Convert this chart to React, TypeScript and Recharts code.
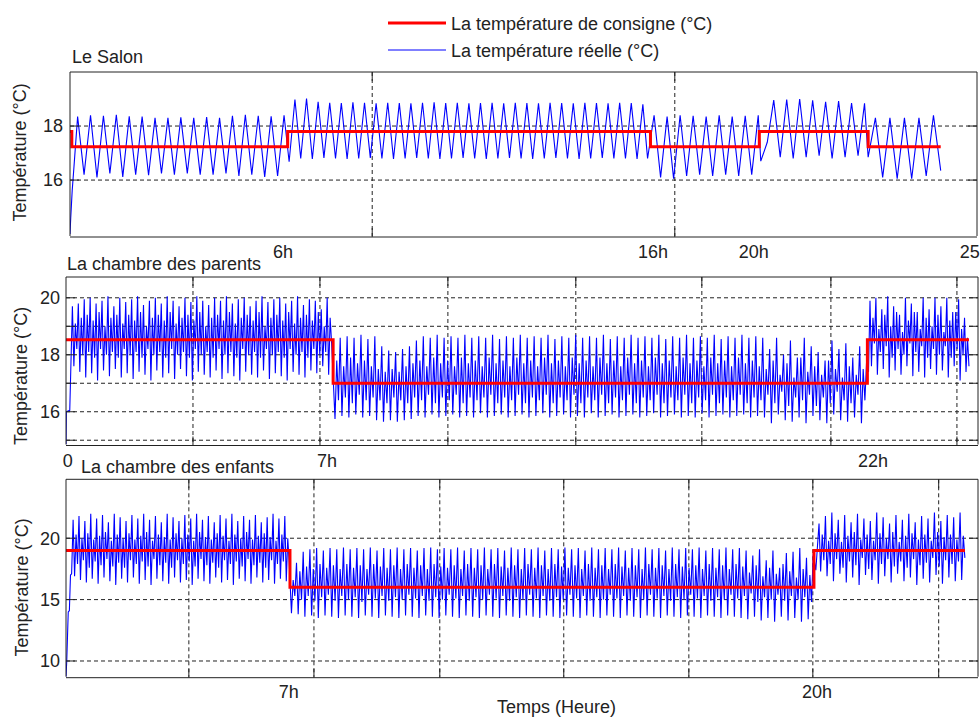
import React from "react";
import { LineChart, Line, XAxis, YAxis, CartesianGrid, Legend } from "recharts";

const FONT = '"Liberation Sans", Arial, Helvetica, sans-serif';
const INK = "#222";
const BLUE = "#0000ff";
const RED = "#ff0000";

const NAME_SET = "La température de consigne (°C)";
const NAME_REAL = "La température réelle (°C)";

// ---------- Le Salon ----------
const salonGridT = [8.33, 16.67];
const salonTicksY = [16, 18];
const salonLabelT = [5.87, 16.07, 18.85, 24.8];
const salonLabels = ["6h", "16h", "20h", "25"];
const salonSetT = [0, 0.05, 6, 16, 19, 22, 24];
const salonSetV = [17.8, 17.23, 17.8, 17.23, 17.8, 17.23, 17.23];
const salonRiseT = [0, 0.02, 0.06, 0.11];
const salonRiseV = [14.0, 14.6, 15.6, 16.5];
const salonRunFrom = [0.21, 6.04, 15.92, 19.04, 22.0];
const salonRunTo = [5.9, 15.79, 18.97, 21.9, 24.0];
const salonRun1 = [
  18.35, 16.2, 18.4, 16.1, 18.38, 16.25, 18.42, 16.12, 18.36, 16.2, 18.35, 16.18,
  18.3, 16.25, 18.3, 16.2, 18.32, 16.25, 18.3, 16.2, 18.33, 16.2, 18.3, 16.25,
  18.38, 16.15, 18.42, 16.2, 18.38, 16.12, 18.36, 16.15, 18.4,
];
const salonRun2 = [
  16.68, 18.98, 16.8, 19.02, 16.78, 18.9, 16.82, 18.86, 16.8, 18.85, 16.78, 18.88,
  16.8, 18.86, 16.82, 18.84, 16.8, 18.86, 16.78, 18.85, 16.8, 18.84, 16.82, 18.86,
  16.8, 18.88, 16.78, 18.85, 16.8, 18.86, 16.82, 18.84, 16.8, 18.85, 16.78, 18.86,
  16.8, 18.84, 16.82, 18.86, 16.8, 18.85, 16.78, 18.84, 16.8, 18.86, 16.82, 18.85,
  16.8, 18.84, 16.78, 18.86, 16.8, 18.85, 16.82, 18.84, 16.8, 18.86, 16.8, 18.85,
  16.78, 18.8,
];
const salonRun3 = [
  16.8, 18.4, 16.1, 18.35, 16.05, 18.4, 16.15, 18.38, 16.2, 18.35, 16.15, 18.4,
  16.2, 18.35, 16.15, 18.38, 16.2, 18.4,
];
const salonRun4 = [
  16.7, 17.4, 18.96, 16.85, 18.98, 16.8, 19.0, 16.85, 18.95, 16.9, 18.9, 16.8,
  18.92, 16.85, 18.85, 16.9, 18.84,
];
const salonRun5 = [16.85, 18.3, 16.1, 18.3, 16.05, 18.3, 16.05, 18.3, 16.15, 18.4, 16.35];

// ---------- La chambre des parents ----------
const parentsGridT = [3.375, 6.75, 10.15, 13.55, 16.9, 20.33, 23.68];
const parentsTicksY = [15, 16, 17, 18, 19, 20];
const parentsLabelT = [0.05, 6.94, 21.45];
const parentsLabels = ["0", "7h", "22h"];
const parentsSetT = [0, 7.1, 21.3, 24.0];
const parentsSetV = [18.53, 17.0, 18.53, 18.53];
const parentsRiseT = [0, 0.01, 0.1];
const parentsRiseV = [14.85, 16.0, 16.05];
const parentsRunFrom = [0.17, 7.15, 21.33];
const parentsRunTo = [7.06, 21.28, 24.0];
const parentsNight = [
  19.7, 17.6, 19.1, 18.2, 19.8, 17.4, 19.3, 18.0, 19.95, 17.2, 19.4, 18.1, 20.0, 17.35, 19.2, 17.9,
  19.8, 17.1, 19.5, 18.2, 19.9, 17.45, 19.0, 18.0, 20.05, 17.25, 19.3, 18.1, 19.7, 17.5, 19.4, 17.9,
  20.0, 17.2, 19.1, 18.2, 19.85, 17.35, 19.4, 18.0, 19.95, 17.15, 19.2, 18.1, 20.05, 17.4, 19.5, 17.9,
  19.75, 17.3, 19.0, 18.2, 19.9, 17.1, 19.3, 18.0, 20.0, 17.45, 19.4, 18.1, 19.8, 17.2, 19.2, 17.9,
  20.05, 17.35, 19.5, 18.2, 19.9, 17.15, 19.1, 18.0, 19.7, 17.5, 19.3, 18.1, 20.0, 17.25, 19.4, 17.9,
  19.85, 17.1, 19.2, 18.2, 20.05, 17.4, 19.5, 18.0, 19.9, 17.3, 19.0, 18.1, 19.75, 17.2, 19.3, 17.9,
  20.0, 17.45, 19.4, 18.2, 19.9, 17.15, 19.2, 18.0, 20.05, 17.35, 19.5, 18.1, 19.8, 17.25, 19.1, 17.9,
  19.95, 17.1, 19.3, 18.2, 20.0, 17.4, 19.4, 18.0, 19.7, 17.3, 19.2, 18.1, 19.9, 17.2, 19.5, 17.9,
  20.05, 17.45, 19.0, 18.2, 19.85, 17.15, 19.3, 18.0, 19.95, 17.35, 19.4, 18.1, 20.0, 17.25, 19.2, 17.9,
  19.8, 17.1, 19.5, 18.2, 19.9, 17.4, 19.1, 18.0, 20.05, 17.3, 19.3, 18.1, 19.75, 17.2, 19.4, 17.9,
  19.95, 17.45, 19.2, 18.2, 19.9, 17.35, 19.5, 18.0, 19.6, 17.6, 19.0, 18.1, 20.0, 17.3, 19.3, 18.4,
];
const parentsDay = [
  15.75, 17.8, 16.4, 18.6, 15.85, 17.6, 16.5, 18.65, 15.8, 17.9, 16.3, 18.6, 15.9, 17.7, 16.6, 18.7, 15.8, 17.8, 16.4, 18.55,
  15.85, 17.6, 16.5, 18.65, 15.7, 17.5, 16.4, 18.3, 15.65, 17.4, 16.3, 18.15, 15.7, 17.5, 16.5, 18.1, 15.65, 17.4, 16.4, 18.2,
  15.7, 17.6, 16.3, 18.3, 15.75, 17.7, 16.5, 18.5, 15.85, 17.8, 16.4, 18.65, 15.8, 17.6, 16.6, 18.6, 15.9, 17.9, 16.3, 18.7,
  15.8, 17.7, 16.5, 18.6, 15.85, 17.8, 16.4, 18.65, 15.9, 17.6, 16.6, 18.6, 15.8, 17.9, 16.3, 18.7, 15.85, 17.7, 16.5, 18.6,
  15.8, 17.8, 16.4, 18.65, 15.95, 17.6, 16.5, 18.6, 15.8, 17.9, 16.6, 18.7, 15.85, 17.7, 16.3, 18.55, 15.9, 17.8, 16.5, 18.65,
  15.8, 17.6, 16.4, 18.6, 15.85, 17.9, 16.6, 18.7, 15.9, 17.7, 16.3, 18.6, 15.8, 17.8, 16.5, 18.65, 15.85, 17.6, 16.4, 18.6,
  15.95, 17.9, 16.6, 18.7, 15.8, 17.7, 16.3, 18.55, 15.85, 17.8, 16.5, 18.65, 15.9, 17.6, 16.4, 18.6, 15.8, 17.9, 16.6, 18.7,
  15.85, 17.7, 16.3, 18.6, 15.8, 17.8, 16.5, 18.65, 15.95, 17.6, 16.4, 18.6, 15.8, 17.9, 16.6, 18.7, 15.85, 17.7, 16.3, 18.55,
  15.9, 17.8, 16.5, 18.65, 15.8, 17.6, 16.4, 18.6, 15.85, 17.9, 16.6, 18.7, 15.9, 17.7, 16.3, 18.6, 15.8, 17.8, 16.5, 18.65,
  15.85, 17.6, 16.4, 18.6, 15.95, 17.9, 16.6, 18.7, 15.8, 17.7, 16.3, 18.55, 15.85, 17.8, 16.5, 18.65, 15.9, 17.6, 16.4, 18.6,
  15.8, 17.9, 16.6, 18.7, 15.85, 17.7, 16.3, 18.6, 15.8, 17.8, 16.5, 18.65, 15.95, 17.6, 16.4, 18.6, 15.8, 17.9, 16.6, 18.7,
  15.85, 17.7, 16.3, 18.55, 15.9, 17.8, 16.5, 18.65, 15.8, 17.6, 16.4, 18.6, 15.85, 17.9, 16.6, 18.7, 15.9, 17.7, 16.3, 18.6,
  15.8, 17.8, 16.5, 18.65, 15.85, 17.6, 16.4, 18.6,
  15.8, 17.5, 16.6, 18.2, 15.6, 17.8, 16.3, 18.6, 15.9, 17.3, 16.7, 18.0, 15.7, 17.7, 16.2, 18.5, 15.65, 17.2, 16.5, 17.9,
  15.8, 17.9, 16.4, 18.6, 15.6, 17.4, 16.6, 18.3, 15.85, 17.6, 16.2, 18.1, 15.7, 17.3, 16.5, 17.8, 15.6, 17.8, 16.3, 18.5,
  15.9, 17.5, 16.7, 18.2, 15.7, 17.2, 16.4, 18.4, 15.65, 17.6, 16.3, 17.9, 15.8, 17.3, 16.6, 18.3, 15.6, 17.5, 16.4, 17.8,
];
const parentsEvening = [
  17.4,
  19.9, 17.6, 19.3, 18.4, 20.0, 17.3, 18.9, 18.1, 19.6, 17.5, 19.4, 18.3, 20.05, 17.2, 19.0, 17.9,
  19.7, 17.45, 19.5, 18.2, 19.4, 17.3, 18.8, 18.0, 20.0, 17.6, 19.2, 18.4, 19.8, 17.25, 19.5, 18.1,
  19.5, 17.4, 18.9, 18.3, 20.0, 17.2, 19.3, 17.9, 19.6, 17.5, 19.0, 18.2, 20.0, 17.3, 19.4, 18.0,
  19.7, 17.45, 18.8, 18.3, 20.0, 17.2, 19.2, 17.9, 19.5, 17.6, 19.5, 18.2, 19.95, 17.1, 18.9, 18.0,
  19.3, 17.4, 18.6, 17.6,
];

// ---------- La chambre des enfants ----------
const enfantsGridT = [3.28, 6.62, 9.98, 13.29, 16.63, 19.94, 23.3];
const enfantsTicksY = [10, 15, 20];
const enfantsLabelT = [5.95, 20.05];
const enfantsLabels = ["7h", "20h"];
const enfantsSetT = [0, 5.98, 19.97, 24.0];
const enfantsSetV = [19.0, 16.0, 19.0, 19.0];
const enfantsRiseT = [0, 0.02, 0.06, 0.09, 0.12, 0.15];
const enfantsRiseV = [8.72, 10.0, 14.0, 14.1, 17.0, 17.1];
const enfantsRunFrom = [0.19, 6.02, 20.02];
const enfantsRunTo = [5.96, 19.95, 24.0];
const enfantsNight = [
  21.5, 16.9, 20.3, 17.9, 21.8, 16.6, 20.0, 18.2, 21.4, 16.4, 20.4, 17.6, 22.0, 16.7, 19.9, 18.1,
  21.6, 16.3, 20.2, 17.8, 21.9, 16.8, 20.5, 18.3, 21.3, 16.5, 19.8, 17.7, 22.0, 16.2, 20.3, 18.0,
  21.7, 16.7, 20.0, 17.6, 21.4, 16.4, 20.4, 18.2, 21.9, 16.8, 19.9, 17.9, 21.6, 16.3, 20.2, 18.1,
  22.0, 16.6, 20.5, 17.7, 21.5, 16.2, 19.8, 18.3, 21.8, 16.7, 20.3, 17.8, 21.3, 16.5, 20.1, 18.0,
  22.0, 16.3, 19.9, 17.6, 21.7, 16.8, 20.4, 18.2, 21.4, 16.4, 20.0, 17.9, 21.9, 16.6, 20.3, 18.1,
  21.6, 16.2, 19.8, 17.7, 22.0, 16.7, 20.5, 18.3, 21.5, 16.5, 20.1, 17.8, 21.8, 16.3, 19.9, 18.0,
  21.3, 16.8, 20.4, 17.6, 21.9, 16.4, 20.2, 18.2, 21.6, 16.6, 19.8, 17.9, 22.0, 16.2, 20.3, 18.1,
  21.4, 16.7, 20.0, 17.7, 21.8, 16.5, 20.5, 18.3, 21.5, 16.3, 19.9, 17.8, 21.9, 16.8, 20.2, 18.0,
  21.3, 16.4, 20.4, 17.6, 21.7, 16.6, 20.1, 18.2, 22.0, 16.3, 19.8, 17.9, 21.6, 16.7, 20.3, 18.1,
  21.8, 16.5, 20.0, 18.0,
];
const enfantsDay = [
  13.9, 16.6, 15.3, 18.0, 13.8, 17.3, 15.0, 18.9, 13.6, 17.7, 15.3, 19.1, 13.7, 17.5, 14.9, 19.2, 13.5, 17.9, 15.2, 19.0,
  13.7, 17.6, 15.4, 19.2, 13.6, 17.8, 14.9, 19.1, 13.5, 17.5, 15.3, 19.25, 13.7, 17.9, 15.0, 19.1, 13.6, 17.6, 15.2, 19.2,
  13.5, 17.8, 14.8, 19.1, 13.7, 17.5, 15.4, 19.25, 13.6, 17.9, 15.1, 19.0, 13.5, 17.7, 15.3, 19.2, 13.7, 17.6, 14.9, 19.1,
  13.6, 17.8, 15.2, 19.25, 13.5, 17.5, 15.0, 19.1, 13.7, 17.9, 15.4, 19.2, 13.6, 17.6, 15.1, 19.0, 13.5, 17.8, 15.3, 19.2,
  13.7, 17.5, 14.9, 19.25, 13.6, 17.9, 15.2, 19.1, 13.5, 17.7, 15.0, 19.2, 13.7, 17.6, 15.4, 19.1, 13.6, 17.8, 15.1, 19.25,
  13.5, 17.5, 15.3, 19.0, 13.7, 17.9, 14.9, 19.2, 13.6, 17.6, 15.2, 19.1, 13.5, 17.8, 15.0, 19.25, 13.7, 17.5, 15.4, 19.1,
  13.6, 17.9, 15.1, 19.2, 13.5, 17.7, 15.3, 19.0, 13.7, 17.6, 14.9, 19.25, 13.6, 17.8, 15.2, 19.1, 13.5, 17.5, 15.0, 19.2,
  13.7, 17.9, 15.4, 19.1, 13.6, 17.6, 15.1, 19.25, 13.5, 17.8, 15.3, 19.0, 13.7, 17.5, 14.9, 19.2, 13.6, 17.9, 15.2, 19.1,
  13.5, 17.7, 15.0, 19.25, 13.7, 17.6, 15.4, 19.1, 13.6, 17.8, 15.1, 19.2, 13.5, 17.5, 15.3, 19.0, 13.7, 17.9, 14.9, 19.25,
  13.6, 17.6, 15.2, 19.1, 13.5, 17.8, 15.0, 19.2, 13.7, 17.5, 15.4, 19.1, 13.6, 17.9, 15.1, 19.25, 13.5, 17.7, 15.3, 19.0,
  13.7, 17.6, 14.9, 19.2, 13.6, 17.8, 15.2, 19.1, 13.5, 17.5, 15.0, 19.25, 13.7, 17.9, 15.4, 19.1, 13.6, 17.6, 15.1, 19.2,
  13.5, 17.8, 15.3, 19.0, 13.7, 17.5, 14.9, 19.25, 13.6, 17.9, 15.2, 19.1, 13.5, 17.7, 15.0, 19.2, 13.7, 17.6, 15.4, 19.1,
  13.6, 17.8, 15.1, 19.25, 13.5, 17.5, 15.3, 19.0, 13.7, 17.9, 14.9, 19.2, 13.6, 17.6, 15.2, 19.1, 13.5, 17.8, 15.0, 19.25,
  13.7, 17.5, 15.4, 19.1, 13.6, 17.9, 15.1, 19.2, 13.5, 17.7, 15.3, 19.0,
  13.4, 17.2, 15.5, 18.6, 13.6, 17.8, 14.8, 19.1, 13.3, 16.9, 15.2, 18.2, 13.5, 17.6, 15.0, 19.0, 13.2, 17.1, 15.4, 17.6,
  13.6, 17.9, 14.9, 18.8, 13.3, 17.3, 15.3, 18.9, 13.5, 16.8, 15.0, 19.2, 13.2, 17.5, 15.2, 18.4, 13.4, 17.0, 14.8, 18.7,
];
const enfantsEvening = [
  17.4, 19.3,
  21.2, 17.3, 20.3, 18.2, 21.8, 16.9, 19.8, 17.9, 22.1, 16.5, 20.4, 18.3, 21.5, 17.1, 19.7, 17.6, 21.9, 16.4, 20.2, 18.1,
  21.3, 16.8, 20.5, 17.8, 22.0, 16.2, 19.9, 18.4, 21.6, 17.0, 20.3, 17.5, 21.4, 16.6, 19.8, 18.2, 22.1, 16.3, 20.4, 17.9,
  21.7, 16.9, 20.0, 18.3, 21.2, 16.4, 20.5, 17.7, 21.9, 17.1, 19.7, 18.1, 21.5, 16.5, 20.2, 17.6, 22.0, 16.8, 20.4, 18.3,
  21.3, 16.2, 19.9, 17.8, 21.8, 16.7, 20.3, 18.0, 21.6, 16.4, 19.8, 18.4, 22.1, 17.0, 20.5, 17.7, 21.4, 16.3, 20.1, 18.2,
  21.9, 16.8, 20.3, 17.9, 21.7, 16.5, 19.9, 18.1, 22.1, 16.6, 20.2, 18.4,
];

type Pt = { t: number; v: number };

const toPoints = (ts: number[], vs: number[]): Pt[] => ts.map((t, i) => ({ t, v: vs[i] }));
const spread = (from: number, to: number, vs: number[]): Pt[] =>
  vs.map((v, i) => ({ t: from + ((to - from) * i) / (vs.length - 1), v }));
const buildReal = (riseT: number[], riseV: number[], from: number[], to: number[], runs: number[][]): Pt[] => [
  ...toPoints(riseT, riseV),
  ...runs.flatMap((vals, i) => spread(from[i], to[i], vals)),
];

const salonReal = buildReal(salonRiseT, salonRiseV, salonRunFrom, salonRunTo, [
  salonRun1, salonRun2, salonRun3, salonRun4, salonRun5,
]);
const parentsReal = buildReal(parentsRiseT, parentsRiseV, parentsRunFrom, parentsRunTo, [
  parentsNight, parentsDay, parentsEvening,
]);
const enfantsReal = buildReal(enfantsRiseT, enfantsRiseV, enfantsRunFrom, enfantsRunTo, [
  enfantsNight, enfantsDay, enfantsEvening,
]);

const legendItems = [
  { name: NAME_SET, color: RED, width: 3 },
  { name: NAME_REAL, color: BLUE, width: 1 },
];

function LegendBox() {
  return (
    <div style={{ fontFamily: FONT, fontSize: 18, color: INK }}>
      {legendItems.map((it) => (
        <div
          key={it.name}
          style={{ display: "flex", alignItems: "center", height: 27, lineHeight: "27px", whiteSpace: "nowrap" }}
        >
          <svg width={63} height={27} style={{ display: "block" }}>
            <line x1={0} x2={58} y1={12} y2={12} stroke={it.color} strokeWidth={it.width} />
          </svg>
          <span>{it.name}</span>
        </div>
      ))}
    </div>
  );
}

// tick marks only, no text
const NoText = () => <g />;

interface Box {
  left: number;
  top: number;
  right: number;
  bottom: number;
}

interface PanelProps {
  top: number;
  height: number;
  plot: Box;
  xMax: number;
  yDomain: [number, number];
  gridT: number[];
  ticksY: number[];
  yFormat?: (v: number) => string;
  yLabelGap: number;
  labelT: number[];
  labels: string[];
  labelGap: number;
  real: Pt[];
  setpoint: Pt[];
  legend?: boolean;
}

function Panel(p: PanelProps) {
  const axisStyle = { stroke: INK, strokeWidth: 1 };
  const tickFont = { fontSize: 18, fill: INK, fontFamily: FONT };
  // every axis is 1px thick, so the plot box lands on p.plot
  const margin = {
    left: p.plot.left - 1,
    right: 980 - p.plot.right - 1,
    top: p.plot.top - p.top - 1,
    bottom: p.top + p.height - p.plot.bottom - 2,
  };
  return (
    <div style={{ position: "absolute", left: 0, top: p.top }}>
      <LineChart width={980} height={p.height} margin={margin}>
        <CartesianGrid xAxisId="t" yAxisId="v" stroke={INK} strokeDasharray="4 3" syncWithTicks />
        <XAxis
          xAxisId="t"
          dataKey="t"
          type="number"
          domain={[0, p.xMax]}
          allowDataOverflow
          ticks={p.gridT}
          interval={0}
          tick={NoText}
          tickSize={-9}
          height={1}
          axisLine={axisStyle}
          tickLine={axisStyle}
        />
        <XAxis
          xAxisId="lab"
          dataKey="t"
          type="number"
          domain={[0, p.xMax]}
          allowDataOverflow
          ticks={p.labelT}
          interval={0}
          tickFormatter={(v: number) => p.labels[p.labelT.indexOf(v)] ?? ""}
          tick={tickFont}
          tickLine={false}
          axisLine={false}
          tickSize={0}
          tickMargin={p.labelGap}
          height={1}
        />
        <XAxis
          xAxisId="top"
          dataKey="t"
          orientation="top"
          type="number"
          domain={[0, p.xMax]}
          allowDataOverflow
          ticks={p.gridT}
          interval={0}
          tick={NoText}
          tickSize={-9}
          height={1}
          axisLine={axisStyle}
          tickLine={axisStyle}
        />
        <YAxis
          yAxisId="v"
          type="number"
          domain={p.yDomain}
          allowDataOverflow
          ticks={p.ticksY}
          interval={0}
          tickFormatter={p.yFormat}
          tick={tickFont}
          tickSize={-9}
          tickMargin={p.yLabelGap}
          width={1}
          axisLine={axisStyle}
          tickLine={axisStyle}
        />
        <YAxis
          yAxisId="right"
          orientation="right"
          type="number"
          domain={p.yDomain}
          allowDataOverflow
          ticks={p.ticksY}
          interval={0}
          tick={NoText}
          tickSize={-9}
          width={1}
          axisLine={axisStyle}
          tickLine={axisStyle}
        />
        <Line
          xAxisId="t"
          yAxisId="v"
          data={p.real}
          dataKey="v"
          name={NAME_REAL}
          type="linear"
          stroke={BLUE}
          strokeWidth={1.1}
          dot={false}
          activeDot={false}
          isAnimationActive={false}
        />
        <Line
          xAxisId="t"
          yAxisId="v"
          data={p.setpoint}
          dataKey="v"
          name={NAME_SET}
          type="stepAfter"
          stroke={RED}
          strokeWidth={3}
          dot={false}
          activeDot={false}
          isAnimationActive={false}
        />
        {p.legend && (
          <Legend
            layout="vertical"
            align="center"
            verticalAlign="middle"
            wrapperStyle={{ left: 388, top: 11, width: 420 }}
            content={() => <LegendBox />}
          />
        )}
      </LineChart>
    </div>
  );
}

const textStyle = { fontFamily: FONT, fontSize: 18, fill: INK };

export default function App() {
  return (
    <div style={{ position: "absolute", left: 0, top: 0, width: 980, height: 717, background: "#fff" }}>
      <Panel
        top={0}
        height={262}
        plot={{ left: 70, top: 72, right: 977, bottom: 236 }}
        xMax={25}
        yDomain={[13.93, 20]}
        gridT={salonGridT}
        ticksY={salonTicksY}
        yLabelGap={16}
        labelT={salonLabelT}
        labels={salonLabels}
        labelGap={9}
        real={salonReal}
        setpoint={toPoints(salonSetT, salonSetV)}
        legend
      />
      <Panel
        top={262}
        height={213}
        plot={{ left: 66, top: 277, right: 978, bottom: 444.5 }}
        xMax={24.24}
        yDomain={[14.85, 20.73]}
        gridT={parentsGridT}
        ticksY={parentsTicksY}
        yFormat={(v) => (v % 2 === 0 ? String(v) : "")}
        yLabelGap={15}
        labelT={parentsLabelT}
        labels={parentsLabels}
        labelGap={10}
        real={parentsReal}
        setpoint={toPoints(parentsSetT, parentsSetV)}
      />
      <Panel
        top={475}
        height={242}
        plot={{ left: 66, top: 479.3, right: 978, bottom: 676.7 }}
        xMax={24.35}
        yDomain={[8.72, 24.8]}
        gridT={enfantsGridT}
        ticksY={enfantsTicksY}
        yLabelGap={15}
        labelT={enfantsLabelT}
        labels={enfantsLabels}
        labelGap={9}
        real={enfantsReal}
        setpoint={toPoints(enfantsSetT, enfantsSetV)}
      />
      <svg
        width={980}
        height={717}
        style={{ position: "absolute", left: 0, top: 0, pointerEvents: "none" }}
      >
        <text x={72} y={62.7} {...textStyle}>Le Salon</text>
        <text x={67} y={270} {...textStyle}>La chambre des parents</text>
        <text x={81} y={472.5} {...textStyle}>La chambre des enfants</text>
        <text x={497} y={713} {...textStyle}>Temps (Heure)</text>
        <text x={26} y={152.5} textAnchor="middle" transform="rotate(-90 26 152.5)" {...textStyle}>
          Température (°C)
        </text>
        <text x={27} y={376} textAnchor="middle" transform="rotate(-90 27 376)" {...textStyle}>
          Température (°C)
        </text>
        <text x={27.5} y={587.5} textAnchor="middle" transform="rotate(-90 27.5 587.5)" {...textStyle}>
          Température (°C)
        </text>
      </svg>
    </div>
  );
}
